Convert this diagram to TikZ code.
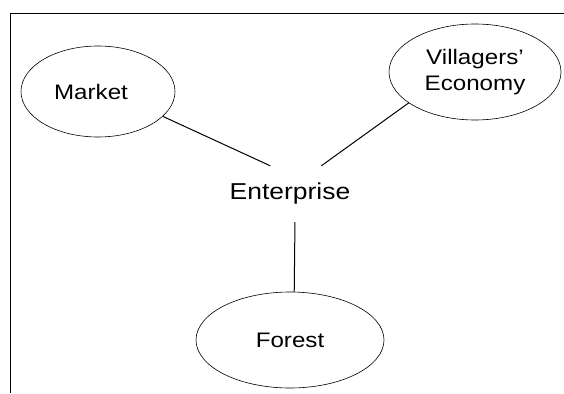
\documentclass[tikz,border=0pt]{standalone}
\usepackage{fontspec}
\setmainfont{Liberation Sans}[FakeStretch=1.15]
\usepackage{tikz}
\usetikzlibrary{shapes.geometric}
\usetikzlibrary{positioning}

\begin{document}
\begin{tikzpicture}[
        x=1pt, y=-1pt,
        topic/.style = {
        draw, ellipse, inner sep=0pt, line width=0.6pt,
        font=\fontsize{21}{26}\selectfont, align=center
        },
        hub/.style = {
        draw=none, rectangle, minimum width=130pt, minimum height=56pt,
        font=\fontsize{23}{28}\selectfont
        },
        link/.style = {line width=1pt}
        ]
    \useasboundingbox (0,0) rectangle (564,393);
    % frame
    \draw[line width=1pt] (564,14) -- (10.7,14) -- (10.7,393);

    \node[topic, minimum width=154pt, minimum height=91pt] (market) at (98,91.5) {\hspace*{-14pt}Market};
    \node[topic, minimum width=172pt, minimum height=96pt] (village) at (475,72) {Villagers'\\Economy};
    \node[hub] (enterprise) at (290,194) {Enterprise};
    \node[topic, minimum width=188pt, minimum height=96pt] (forest) at (290,340) {Forest};

    \draw[link] (market.-21) -- (enterprise.125);
    \draw[link] (village.205) -- (enterprise.42);
    \draw[link] (enterprise.-80) -- (forest.85);
\end{tikzpicture}
\end{document}
